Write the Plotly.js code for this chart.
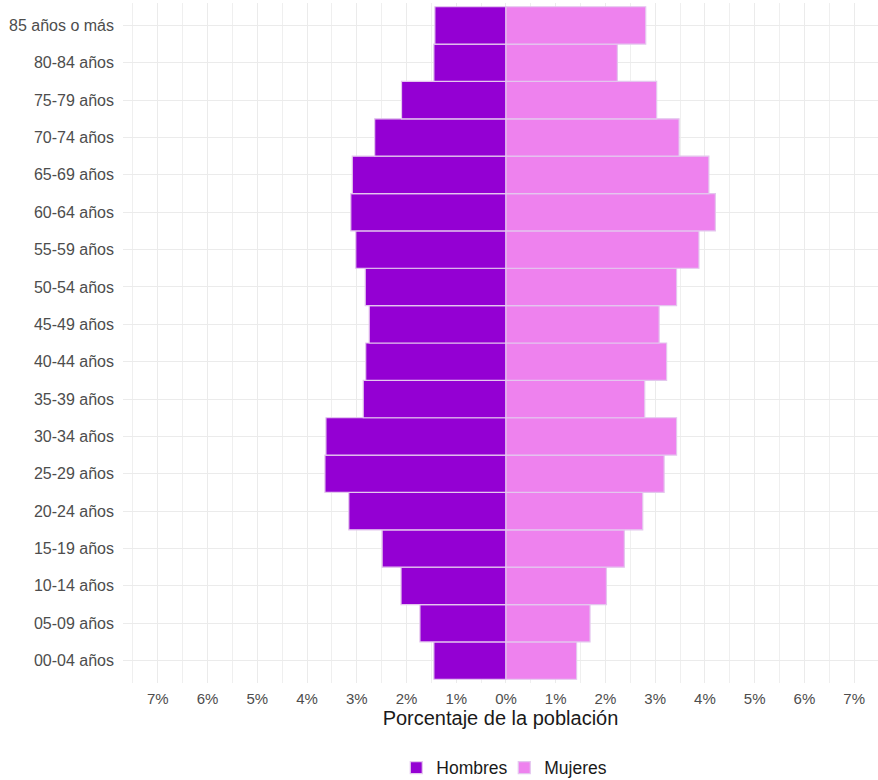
<!DOCTYPE html>
<html>
<head>
<meta charset="utf-8">
<script src="https://cdn.plot.ly/plotly-3.0.1.min.js"></script>
<style>html,body{margin:0;padding:0;background:#fff;}#chart{width:878px;height:780px;}</style>
</head>
<body>
<div id="chart"></div>
<script>
const grupos = ["00-04 años","05-09 años","10-14 años","15-19 años","20-24 años","25-29 años","30-34 años","35-39 años","40-44 años","45-49 años","50-54 años","55-59 años","60-64 años","65-69 años","70-74 años","75-79 años","80-84 años","85 años o más"];
const hombres = [1.45,1.73,2.11,2.49,3.16,3.64,3.62,2.87,2.82,2.75,2.83,3.02,3.12,3.09,2.64,2.10,1.45,1.43];
const mujeres = [1.42,1.69,2.02,2.38,2.75,3.18,3.43,2.79,3.23,3.08,3.43,3.88,4.21,4.08,3.48,3.03,2.24,2.81];
const tickVals = [-7,-6,-5,-4,-3,-2,-1,0,1,2,3,4,5,6,7];
const tickText = ["7%","6%","5%","4%","3%","2%","1%","0%","1%","2%","3%","4%","5%","6%","7%"];

const lineCol = "#e4c6ee";
const traces = [
  {type:"bar", orientation:"h", name:"Hombres", y:grupos, x:hombres.map(v=>-v),
   marker:{color:"#9400D3", line:{color:lineCol, width:1.2}}, width:1},
  {type:"bar", orientation:"h", name:"Mujeres", y:grupos, x:mujeres,
   marker:{color:"#EE82EE", line:{color:lineCol, width:1.2}}, width:1}
];
const layout = {
  width:878, height:780,
  margin:{l:123, r:0, t:3, b:97, autoexpand:false},
  paper_bgcolor:"#fff", plot_bgcolor:"#fff",
  font:{family:"Liberation Sans, Arial, sans-serif", color:"#4d4d4d"},
  barmode:"overlay", bargap:0,
  showlegend:true,
  legend:{orientation:"h", x:0.505, xanchor:"center", y:-0.1245, yanchor:"middle",
          font:{size:17.5, color:"#1a1a1a"}, itemwidth:30, traceorder:"normal",
          entrywidth:63, entrywidthmode:"pixels"},
  xaxis:{range:[-7.7,7.48], tickmode:"array", tickvals:tickVals, ticktext:tickText, automargin:false,
         showgrid:true, gridcolor:"#ebebeb", gridwidth:1, zeroline:false, showline:false,
         ticks:"", tickfont:{size:15, color:"#4d4d4d"}, ticklabelstandoff:5,
         minor:{tickmode:"linear", tick0:0.5, dtick:1, showgrid:true, gridcolor:"#efefef", gridwidth:1},
         title:{text:"Porcentaje de la población", font:{size:20, color:"#1a1a1a"}, standoff:2},
         fixedrange:true},
  yaxis:{type:"category", categoryorder:"array", categoryarray:grupos, range:[-0.6,17.6], automargin:false,
         showgrid:true, gridcolor:"#ebebeb", gridwidth:1, zeroline:false, showline:false,
         ticks:"", tickfont:{size:16, color:"#4d4d4d"}, ticklabelstandoff:8, fixedrange:true}
};
Plotly.newPlot("chart", traces, layout, {displayModeBar:false, staticPlot:true});
</script>
</body>
</html>
